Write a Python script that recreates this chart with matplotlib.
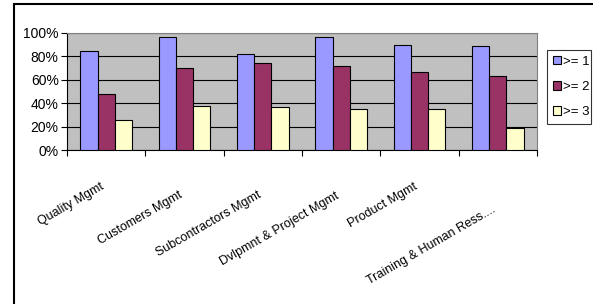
import matplotlib.pyplot as plt
import matplotlib.patches as mpatches
import numpy as np

plt.rcParams['font.family'] = ['Liberation Sans', 'DejaVu Sans']

#Datos
categorias = ["Quality Mgmt", "Customers Mgmt", "Subcontractors Mgmt",
              "Dvlpmnt & Project Mgmt", "Product Mgmt", "Training & Human Ress...."]
serie1 = [85, 96.5, 82, 96.5, 90, 88.5]
serie2 = [48, 70, 74, 71.5, 67, 63.5]
serie3 = [26, 38, 37, 35, 35, 19]
etiquetas = [">= 1", ">= 2", ">= 3"]
colores = ["#9999FF", "#993366", "#FFFFCC"]

W, H = 593, 304
fig = plt.figure(figsize=(W/100, H/100), dpi=100)
ax = fig.add_axes([67/W, 1-150/H, (537-67)/W, (150-33)/H])
ax.set_facecolor("#C0C0C0")

x = np.arange(len(categorias))
ancho = 0.22
for k, (s, c, lab) in enumerate(zip([serie1, serie2, serie3], colores, etiquetas)):
    ax.bar(x + (k-1)*ancho, s, ancho, color=c, edgecolor="black", linewidth=0.8, label=lab, zorder=3)

ax.set_xlim(-0.5, len(categorias)-0.5)
ax.set_ylim(0, 100)
ax.set_yticks(range(0, 101, 20))
ax.set_yticklabels([str(v)+"%" for v in range(0, 101, 20)], fontsize=10)
ax.yaxis.grid(True, color="black", linewidth=0.8, zorder=0)
ax.set_axisbelow(True)
ax.tick_params(axis='y', direction='out', length=4, width=0.8, pad=2)

# ticks de x en los limites de los grupos, etiquetas rotadas aparte
ax.set_xticks(np.arange(-0.5, len(categorias)))
ax.set_xticklabels([])
ax.tick_params(axis='x', direction='out', length=4, width=0.8)
bajada = [36, 44, 44, 45, 36, 59]   # pixeles bajo el eje (como lo escalona Excel)
for i, cat in enumerate(categorias):
    ax.annotate(cat, xy=(i, 0), xycoords='data', xytext=(-2, -bajada[i]*0.72),
                textcoords='offset points', rotation=30, ha='right', va='center',
                rotation_mode='anchor', fontsize=9, annotation_clip=False)

for lado in ["top", "right"]:
    ax.spines[lado].set_color("#808080")

leg = ax.legend(loc='upper left', bbox_to_anchor=(547/W, 1-132/H, 44/W, 82/H),
                bbox_transform=fig.transFigure, mode='expand', fontsize=9.5,
                frameon=True, fancybox=False, edgecolor="black", handlelength=0.6,
                handleheight=0.6, handletextpad=0.2, labelspacing=1.0, borderpad=0.45,
                borderaxespad=0)
leg.get_frame().set_linewidth(0.8)

# marco exterior
fig.patches.append(mpatches.Rectangle((13.5/W, -0.1), 1.2, 1+0.1-4.5/H, transform=fig.transFigure,
                                      fill=False, edgecolor="black", linewidth=1.5))

fig.savefig("out.png", dpi=100)
